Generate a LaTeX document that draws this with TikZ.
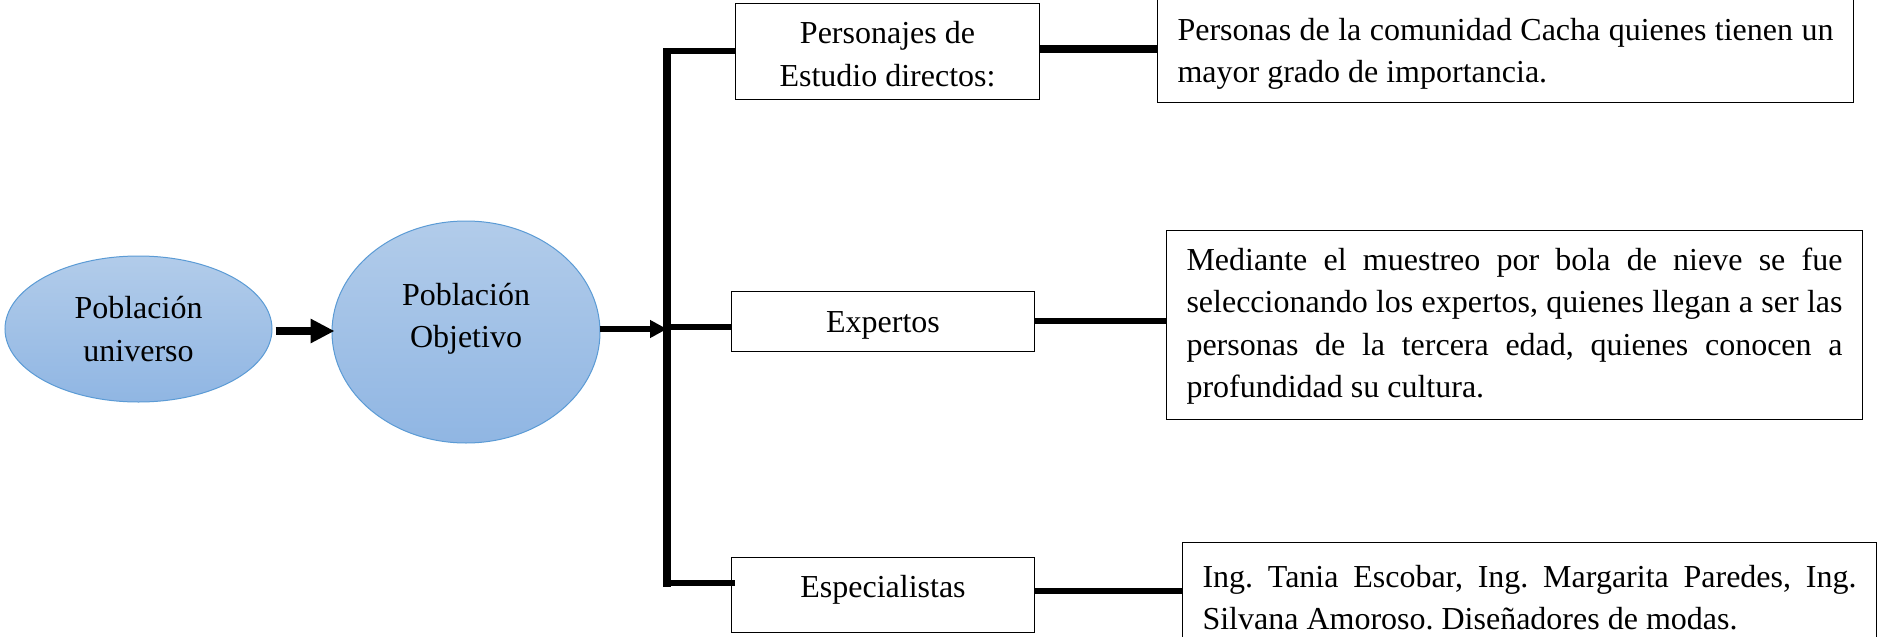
\documentclass[tikz,border=0pt]{standalone}
\usepackage{fontspec}
\setmainfont{Liberation Serif}
\usetikzlibrary{arrows.meta,shapes.geometric}
\definecolor{elliline}{HTML}{5B9BD5}
\definecolor{ellitop}{HTML}{B2CCEA}
\definecolor{ellibot}{HTML}{90B6E3}
\AtBeginDocument{\frenchspacing\hyphenpenalty=10000\relax\exhyphenpenalty=10000\relax\tolerance=9999\relax}
\newcommand{\bodysize}{\fontsize{32}{42.5}\selectfont}
\tikzset{
  x=1pt,y=-1pt,
  down/.style={execute at begin node={\rule{0pt}{#1}}},
  up/.style={execute at end node={\rule[-#1]{0pt}{#1}}},
  elli/.style={ellipse,draw=elliline,line width=1pt,top color=ellitop,bottom color=ellibot,inner sep=0pt,align=flush center,text width=150pt,font=\bodysize},
  box/.style={rectangle,draw=black,line width=1pt,fill=white,inner sep=0pt,align=flush center,anchor=north west,text width=300pt,font=\bodysize},
  txt/.style={rectangle,draw=black,line width=1pt,fill=white,anchor=north west,inner ysep=0pt,inner xsep=20pt,align=justify,font=\bodysize},
  conn/.style={draw=black,line width=#1},
  arrowline/.style={draw=black,line width=#1},
}
\begin{document}
\begin{tikzpicture}
\useasboundingbox[clip] (0,0) rectangle (1877,637);
\fill[white] (0,0) rectangle (1877,637);
% ellipses
\node[elli,minimum width=267pt,minimum height=146pt] (pu) at (138.5,329) {Población\\universo};
\node[elli,up=33pt,minimum width=268pt,minimum height=222pt] (po) at (466,332) {Población\\Objetivo};
% boxes
\node[box,down=27pt,text width=304pt,minimum height=96pt] (b1) at (735,3) {Personajes de\\Estudio directos:};
\node[box,down=29pt,text width=303pt,minimum height=60pt] (b2) at (731,291) {Expertos};
\node[box,up=17pt,text width=303pt,minimum height=75pt] (b3) at (731,557) {Especialistas};
\node[txt,down=29pt,text width=656pt,minimum height=104pt] (r1) at (1157,-2) {Personas de la comunidad Cacha quienes tienen un mayor grado de importancia.};
\node[txt,down=25pt,text width=656pt,minimum height=189pt] (r2) at (1166,230) {Mediante el muestreo por bola de nieve se fue\linebreak seleccionando los expertos, quienes llegan a ser las\linebreak personas de la tercera edad, quienes conocen a\linebreak profundidad su cultura.};
\node[txt,down=32pt,text width=654pt,minimum height=100pt] (r3) at (1182,542) {Ing. Tania Escobar, Ing. Margarita Paredes, Ing. Silvana Amoroso. Diseñadores de modas.};
% bus
\coordinate (bt) at (667,48);
\coordinate (bb) at (667,587);
\coordinate (j1) at (663,51);
\coordinate (j2) at (667,327);
\coordinate (j3) at (663,583);
\coordinate (j0) at (667,329);
\coordinate (c1) at (1000,49);
\coordinate (c2) at (1100,321);
\coordinate (c3) at (1100,591);
\draw[conn=8pt] (bt) -- (bb);
\draw[conn=6.7pt] (j1) -- (b1.west |- j1);
\draw[conn=6pt] (j2) -- (b2.west |- j2);
\draw[conn=6pt] (j3) -- ([xshift=4pt]b3.west |- j3);
\draw[conn=8.3pt] (b1.east |- c1) -- (r1.west |- c1);
\draw[conn=6pt] (b2.east |- c2) -- (r2.west |- c2);
\draw[conn=6.7pt] (b3.east |- c3) -- (r3.west |- c3);
% arrows
\draw[arrowline=8pt,-{Triangle[length=24pt,width=23pt]}] ([xshift=3pt,yshift=-2pt]pu.east) -- ([xshift=3pt,yshift=1pt]po.west);
\draw[arrowline=6pt,-{Triangle[length=17pt,width=17pt]}] ([xshift=-1pt,yshift=3pt]po.east) -- (j0);
\end{tikzpicture}
\end{document}
